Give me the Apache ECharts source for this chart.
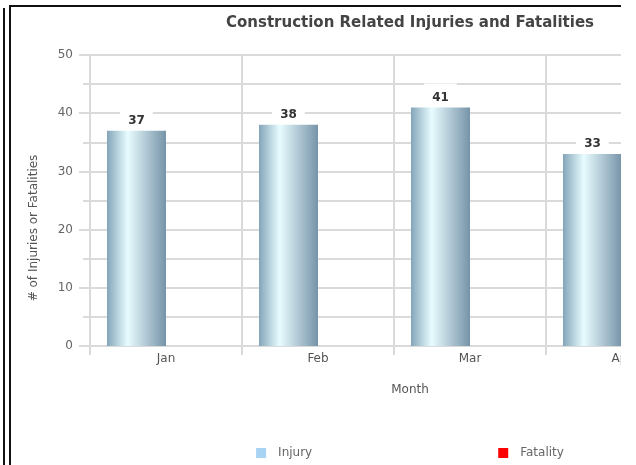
<!DOCTYPE html>
<html>
<head>
<meta charset="utf-8">
<script src="https://cdn.jsdelivr.net/npm/echarts@6/dist/echarts.min.js"></script>
<style>
  html, body { margin: 0; padding: 0; background: #fff; overflow: hidden; }
  #outer { position: absolute; left: 3px; top: 8px; width: 0; height: 470px; border-left: 2px solid #111; }
  #frame { position: absolute; left: 9px; top: 5px; width: 610px; height: 470px;
           border-left: 2px solid #111; border-top: 2px solid #111; overflow: hidden; }
  #main { width: 798px; height: 458px; }
</style>
</head>
<body>
<div id="outer"></div>
<div id="frame"><div id="main"></div></div>
<script>
var months = ['Jan', 'Feb', 'Mar', 'Apr'];
var injuries = [37, 38, 41, 33];
var fatalities = [0, 0, 0, 1];
var seriesNames = ['Injury', 'Fatality'];

var font = "'DejaVu Sans', Verdana, sans-serif";
var gridColor = '#dadada';

var chart = echarts.init(document.getElementById('main'));

var barGradient = new echarts.graphic.LinearGradient(0, 0, 1, 0, [
    { offset: 0, color: '#84a5b9' },
    { offset: 0.35, color: '#e8fcff' },
    { offset: 1, color: '#7693a8' }
]);

var option = {
    animation: false,
    textStyle: { fontFamily: font },
    title: [
        {
            text: 'Construction Related Injuries and Fatalities',
            left: 'center',
            top: 4,
            textStyle: { fontSize: 15, fontWeight: 'bold', color: '#444', fontFamily: font }
        },
        {
            text: 'Month',
            left: 'center',
            top: 372,
            textStyle: { fontSize: 12, fontWeight: 'normal', color: '#555', fontFamily: font }
        }
    ],
    legend: {
        data: [
            { name: seriesNames[0], itemStyle: { color: '#a9d3f3' } },
            { name: seriesNames[1], itemStyle: { color: '#ff0000' } }
        ],
        left: 'center',
        top: 435,
        icon: 'rect',
        itemWidth: 10,
        itemHeight: 10,
        itemGap: 186,
        textStyle: { color: '#666', fontSize: 12, fontFamily: font, padding: [0, 0, 0, 7] }
    },
    grid: { left: 79, top: 48, width: 608, height: 291, containLabel: false },
    xAxis: {
        type: 'category',
        data: months,
        axisLine: { show: true, lineStyle: { color: gridColor, width: 2 } },
        axisTick: { show: true, length: 9, lineStyle: { color: gridColor, width: 2 } },
        splitLine: { show: true, lineStyle: { color: gridColor, width: 2 } },
        axisLabel: { color: '#555', fontSize: 12, margin: 7 }
    },
    yAxis: {
        type: 'value',
        min: 0,
        max: 50,
        interval: 10,
        name: '# of Injuries or Fatalities',
        nameLocation: 'middle',
        nameGap: 50,
        nameTextStyle: { color: '#555', fontSize: 12, padding: [0, 55, 0, 0] },
        axisLine: { show: true, lineStyle: { color: gridColor, width: 2 } },
        axisTick: { show: true, length: 11, lineStyle: { color: gridColor, width: 2 } },
        minorTick: { show: true, splitNumber: 2, length: 7, lineStyle: { color: gridColor, width: 2 } },
        splitLine: { show: true, lineStyle: { color: gridColor, width: 2 } },
        minorSplitLine: { show: true, lineStyle: { color: gridColor, width: 2 } },
        axisLabel: { color: '#666', fontSize: 12, margin: 17 }
    },
    series: [
        {
            name: seriesNames[0],
            type: 'bar',
            data: injuries,
            barWidth: 59,
            barGap: 0,
            itemStyle: { color: barGradient },
            label: {
                show: true,
                position: 'top',
                distance: 3,
                color: '#333',
                fontWeight: 'bold',
                fontSize: 12,
                backgroundColor: '#fff',
                padding: [8, 8, 1, 8]
            }
        },
        {
            name: seriesNames[1],
            type: 'bar',
            data: fatalities,
            barWidth: 59,
            barGap: 0,
            itemStyle: { color: '#ff0000' }
        }
    ]
};
chart.setOption(option);
</script>
</body>
</html>
